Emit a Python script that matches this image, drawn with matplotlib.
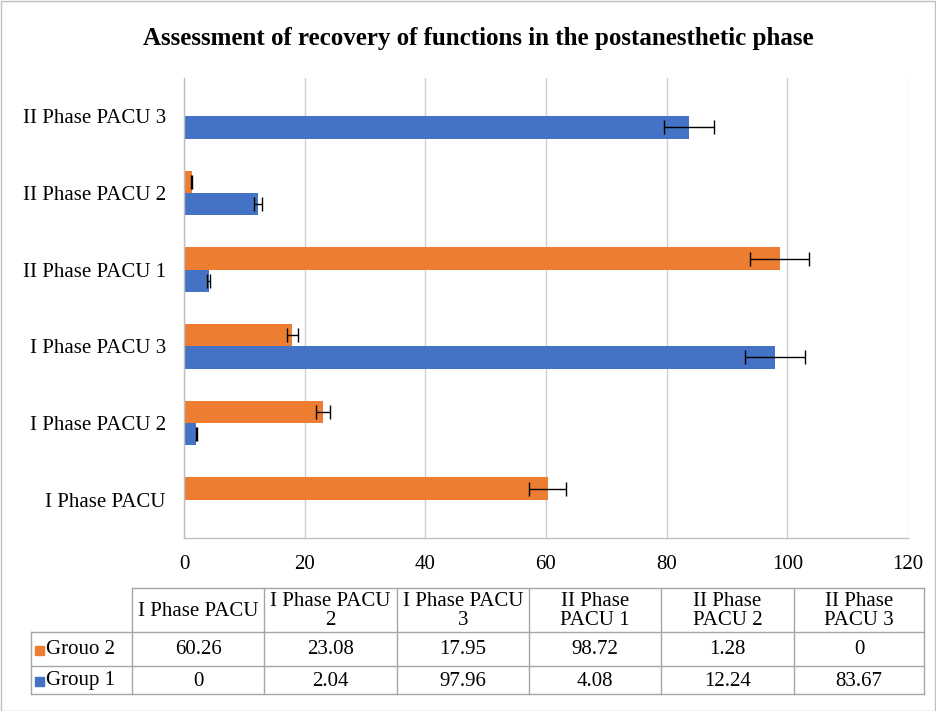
import matplotlib
matplotlib.use("Agg")
import matplotlib.pyplot as plt
from matplotlib.patches import Rectangle
import numpy as np

categories = ["I Phase PACU", "I Phase PACU 2", "I Phase PACU 3",
              "II Phase PACU 1", "II Phase PACU 2", "II Phase PACU 3"]
table_headers = ["I Phase PACU", "I Phase PACU\n2", "I Phase PACU\n3",
                 "II Phase\nPACU 1", "II Phase\nPACU 2", "II Phase\nPACU 3"]
group2_name = "Grouo 2"
group1_name = "Group 1"
group2 = [60.26, 23.08, 17.95, 98.72, 1.28, 0]
group1 = [0, 2.04, 97.96, 4.08, 12.24, 83.67]
error_pct = 5  # percentage error bars
xticks = [0, 20, 40, 60, 80, 100, 120]
title = "Assessment of recovery of functions in the postanesthetic phase"

c_orange = "#ED7D31"
c_blue = "#4472C4"
FONT = "Liberation Serif"
plt.rcParams["font.family"] = [FONT, "DejaVu Serif"]

W, H = 936, 711
fig = plt.figure(figsize=(W / 100, H / 100), dpi=100)

def fx(px):
    return px / W

def fy(py):
    return 1 - py / H

# outer border
fig.patches.append(Rectangle((0.5 / W, 0.5 / H), 1 - 1.5 / W, 1 - 1.5 / H,
                             transform=fig.transFigure, fill=False,
                             edgecolor="#bfbfbf", linewidth=1))

fig.text(fx(478), fy(39), title, ha="center", va="center",
         fontsize=18, fontweight="bold")

ax = fig.add_axes([fx(184), fy(538), fx(908) - fx(184), fy(78) - fy(538)])
y = np.arange(len(categories))
bh = 0.29
g2 = np.array(group2, dtype=float)
g1 = np.array(group1, dtype=float)
ax.barh(y + bh / 2, g2, height=bh, color=c_orange, zorder=2)
ax.barh(y - bh / 2, g1, height=bh, color=c_blue, zorder=2)
m2 = g2 > 0
m1 = g1 > 0
ax.errorbar(g2[m2], (y + bh / 2)[m2], xerr=g2[m2] * error_pct / 100, fmt="none",
            ecolor="black", elinewidth=1, capsize=5, capthick=1, zorder=3)
ax.errorbar(g1[m1], (y - bh / 2)[m1], xerr=g1[m1] * error_pct / 100, fmt="none",
            ecolor="black", elinewidth=1, capsize=5, capthick=1, zorder=3)

ax.set_xlim(0, 120)
ax.set_ylim(-0.5, len(categories) - 0.5)
ax.set_xticks(xticks)
ax.set_yticks(y)
ax.set_yticklabels(categories)
ax.tick_params(axis="both", length=0, labelsize=15, colors="black")
ax.tick_params(axis="x", pad=12)
ax.tick_params(axis="y", pad=13)
ax.grid(axis="x", color="#d0d0d0", linewidth=1, zorder=0)
ax.set_axisbelow(True)
for s in ["top", "right"]:
    ax.spines[s].set_visible(False)
for s in ["left", "bottom"]:
    ax.spines[s].set_color("#bfbfbf")
    ax.spines[s].set_linewidth(1)

# data table
tax = fig.add_axes([0, 0, 1, 1], zorder=5)
tax.set_xlim(0, W)
tax.set_ylim(H, 0)
tax.axis("off")
col_x = [31, 132, 264, 397, 529, 661, 794, 924]
row_y = [588, 632, 666, 694]
lc = "#a6a6a6"
tax.plot([col_x[1], col_x[-1]], [row_y[0], row_y[0]], color=lc, lw=1)
for ry in row_y[1:]:
    tax.plot([col_x[0], col_x[-1]], [ry, ry], color=lc, lw=1)
tax.plot([col_x[0], col_x[0]], [row_y[1], row_y[3]], color=lc, lw=1)
for cx in col_x[1:]:
    tax.plot([cx, cx], [row_y[0], row_y[3]], color=lc, lw=1)

fs = 15
for j, h in enumerate(table_headers):
    cx = (col_x[j + 1] + col_x[j + 2]) / 2
    tax.text(cx, (row_y[0] + row_y[1]) / 2 + 1, h, ha="center", va="center",
             fontsize=fs, linespacing=1.05, color="black")

def fmt(v):
    return f"{v:g}"

rows = [(group2_name, group2, c_orange), (group1_name, group1, c_blue)]
for r, (name, vals, col) in enumerate(rows):
    cy = (row_y[r + 1] + row_y[r + 2]) / 2 + 1
    tax.add_patch(Rectangle((35, cy - 4.5), 9, 9, color=col))
    tax.text(46, cy, name, ha="left", va="center", fontsize=fs, color="black")
    for j, v in enumerate(vals):
        cx = (col_x[j + 1] + col_x[j + 2]) / 2
        tax.text(cx, cy, fmt(v), ha="center", va="center", fontsize=fs, color="black")

fig.savefig("out.png", dpi=100)
